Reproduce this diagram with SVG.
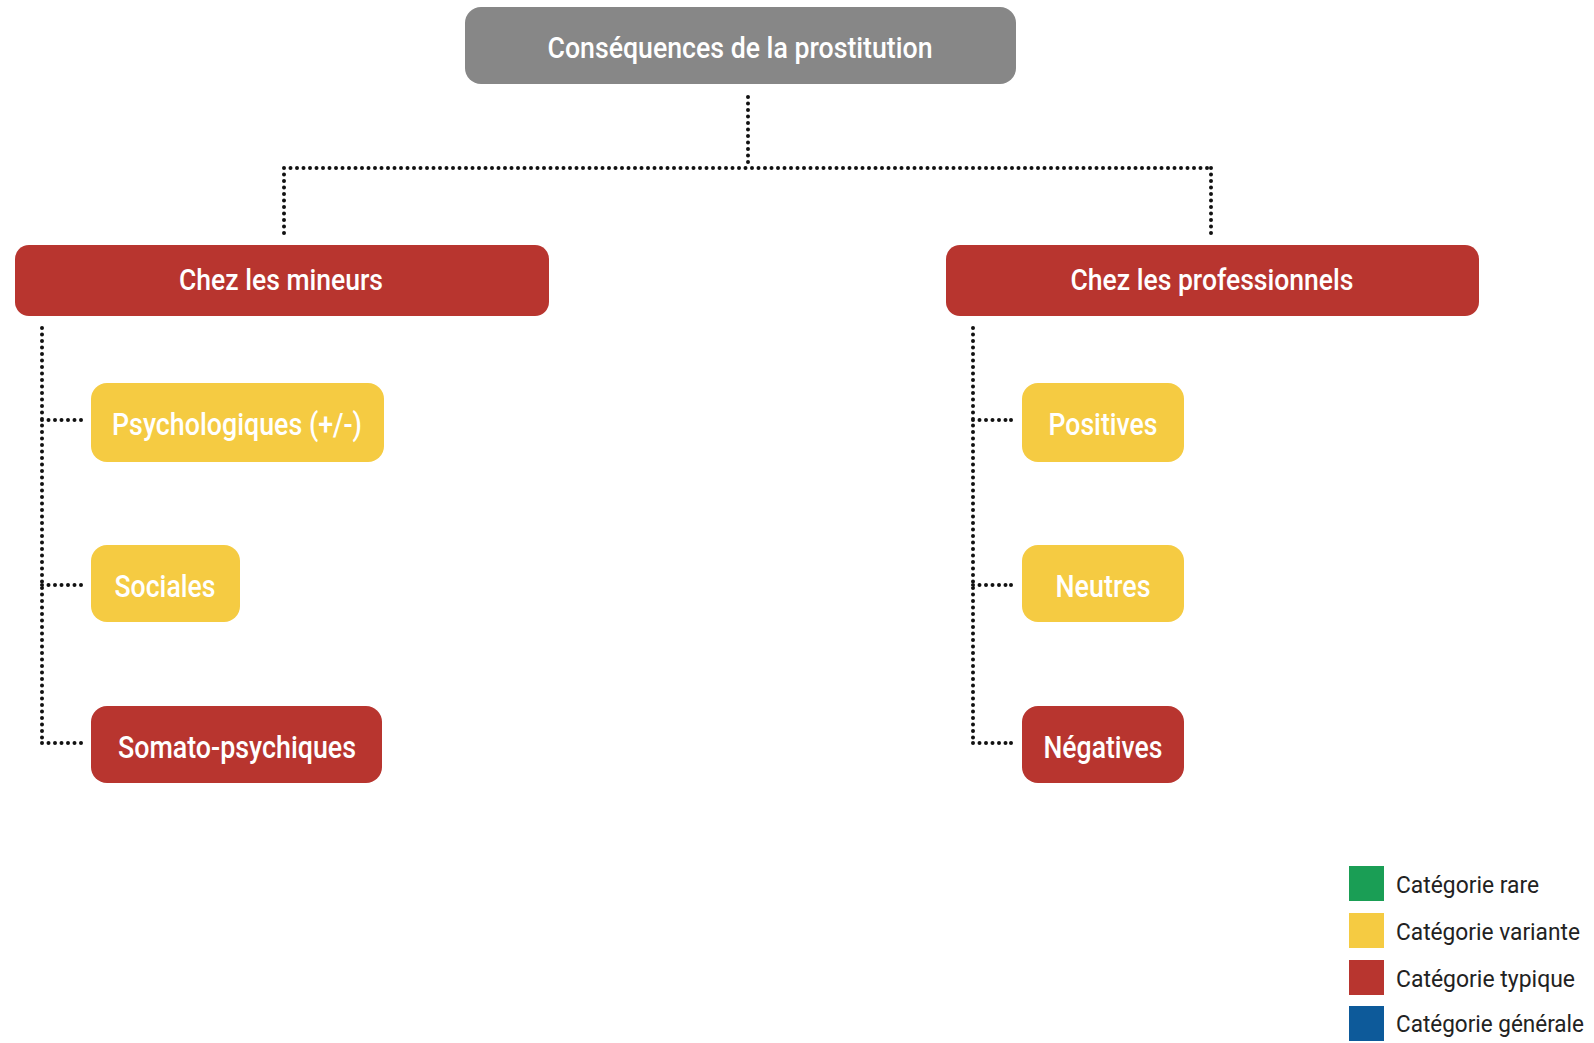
<svg xmlns="http://www.w3.org/2000/svg" width="1594" height="1043" viewBox="0 0 1594 1043">
<style>
.t{font-family:Roboto,"Liberation Sans",sans-serif;font-weight:500;fill:#fff;text-anchor:middle;dominant-baseline:central}
.l{font-family:Roboto,"Liberation Sans",sans-serif;font-weight:400;fill:#222;dominant-baseline:central;font-size:24px}
.gray{fill:#878787}.red{fill:#B8352F}.yel{fill:#F5CB42}
.c{fill:none;stroke:#111;stroke-width:4;stroke-linecap:round;stroke-dasharray:0 6.5}
</style>
<rect width="1594" height="1043" fill="#fff"/>
<g id="connectors">
<path class="c" d="M748 97V168M284 168H1211M284 168V236M1211 168V236"/>
<path class="c" d="M42 328V743M42 420H81M42 585H81M42 743H81"/>
<path class="c" d="M973 328V743M973 420H1011M973 585H1011M973 743H1011"/>
<path class="c" d="M81 420h0M81 585h0M81 743h0M1011 420h0M1011 585h0M1011 743h0" style="stroke-dasharray:none"/>
</g>
<g id="root"><rect class="gray" x="465" y="7" width="551" height="77" rx="16"/><text class="t" x="740" y="47" font-size="30" textLength="385" lengthAdjust="spacingAndGlyphs">Conséquences de la prostitution</text></g>
<g id="mineurs"><rect class="red" x="15" y="245" width="534" height="71" rx="14"/><text class="t" x="281" y="279" font-size="30" textLength="204" lengthAdjust="spacingAndGlyphs">Chez les mineurs</text></g>
<g id="pros"><rect class="red" x="946" y="245" width="533" height="71" rx="14"/><text class="t" x="1212" y="279" font-size="30" textLength="283" lengthAdjust="spacingAndGlyphs">Chez les professionnels</text></g>
<g id="psycho"><rect class="yel" x="91" y="383" width="293" height="79" rx="16"/><text class="t" x="237" y="424" font-size="31" textLength="250" lengthAdjust="spacingAndGlyphs">Psychologiques (+/-)</text></g>
<g id="sociales"><rect class="yel" x="91" y="545" width="149" height="77" rx="16"/><text class="t" x="165" y="586" font-size="31" textLength="101" lengthAdjust="spacingAndGlyphs">Sociales</text></g>
<g id="somato"><rect class="red" x="91" y="706" width="291" height="77" rx="16"/><text class="t" x="237" y="747" font-size="31" textLength="238" lengthAdjust="spacingAndGlyphs">Somato-psychiques</text></g>
<g id="positives"><rect class="yel" x="1022" y="383" width="162" height="79" rx="16"/><text class="t" x="1103" y="424" font-size="31" textLength="109" lengthAdjust="spacingAndGlyphs">Positives</text></g>
<g id="neutres"><rect class="yel" x="1022" y="545" width="162" height="77" rx="16"/><text class="t" x="1103" y="586" font-size="31" textLength="95" lengthAdjust="spacingAndGlyphs">Neutres</text></g>
<g id="negatives"><rect class="red" x="1022" y="706" width="162" height="77" rx="16"/><text class="t" x="1103" y="747" font-size="31" textLength="119" lengthAdjust="spacingAndGlyphs">Négatives</text></g>
<g id="legend">
<rect x="1349" y="866" width="35" height="35" fill="#1A9E55"/><text class="l" x="1396" y="885" textLength="143" lengthAdjust="spacingAndGlyphs">Catégorie rare</text>
<rect x="1349" y="913" width="35" height="35" fill="#F5CB42"/><text class="l" x="1396" y="932" textLength="184" lengthAdjust="spacingAndGlyphs">Catégorie variante</text>
<rect x="1349" y="960" width="35" height="35" fill="#B8352F"/><text class="l" x="1396" y="979" textLength="179" lengthAdjust="spacingAndGlyphs">Catégorie typique</text>
<rect x="1349" y="1006" width="35" height="35" fill="#0D5A9A"/><text class="l" x="1396" y="1024" textLength="188" lengthAdjust="spacingAndGlyphs">Catégorie générale</text>
</g>
</svg>
